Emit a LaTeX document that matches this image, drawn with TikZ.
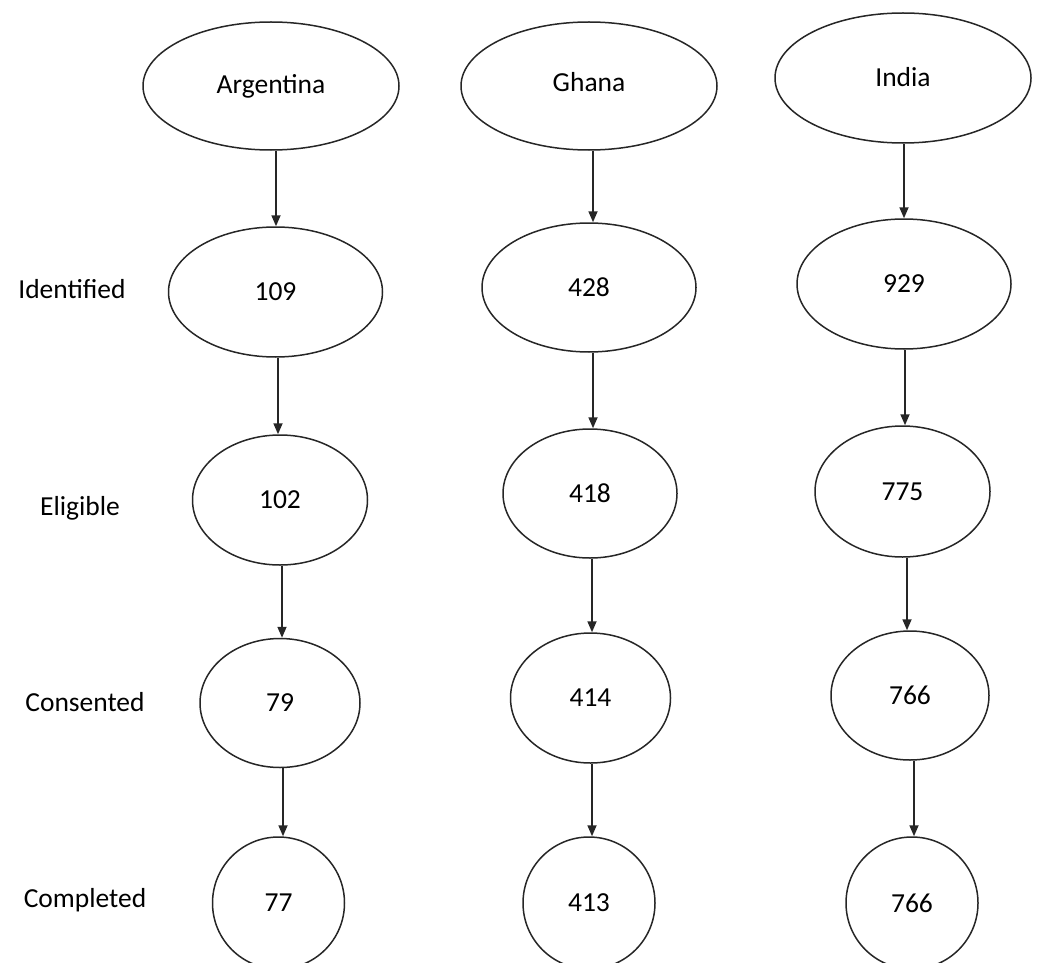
\documentclass[tikz,border=0pt]{standalone}
\usepackage{fontspec}
\setmainfont{Carlito}
\usetikzlibrary{shapes.geometric,arrows.meta}
\begin{document}
\begin{tikzpicture}[x=1pt,y=-1pt,
  stage/.style={draw=black!85,line width=1.5pt,ellipse,inner sep=0pt,font=\fontsize{27.5}{30}\selectfont},
  rowlabel/.style={font=\fontsize{27.5}{30}\selectfont,inner sep=0pt},
  flow/.style={draw=black!85,line width=1.7pt,-{Triangle[length=11pt,width=9pt]}}]
\useasboundingbox (0,0) rectangle (1038,963);
\clip (0,0) rectangle (1038,963);
% countries
\node[stage,minimum width=256pt,minimum height=128pt] (A0) at (271,86) {\raisebox{5pt}{Argentina}};
\node[stage,minimum width=256pt,minimum height=128pt] (G0) at (589,86) {\raisebox{9pt}{Ghana}};
\node[stage,minimum width=256pt,minimum height=130pt] (I0) at (903,78) {\raisebox{3pt}{India}};
% identified
\node[stage,minimum width=214pt,minimum height=130pt] (A1) at (275.5,292) {109};
\node[stage,minimum width=214pt,minimum height=129pt] (G1) at (589,287.5) {428};
\node[stage,minimum width=214pt,minimum height=130pt] (I1) at (904,284) {929};
% eligible
\node[stage,minimum width=175pt,minimum height=130pt] (A2) at (280,500) {102};
\node[stage,minimum width=174pt,minimum height=129pt] (G2) at (590,493.5) {418};
\node[stage,minimum width=175pt,minimum height=131pt] (I2) at (902.5,491.5) {775};
% consented
\node[stage,minimum width=160pt,minimum height=129pt] (A3) at (280,703) {79};
\node[stage,minimum width=160pt,minimum height=130pt] (G3) at (590.5,698) {414};
\node[stage,minimum width=158pt,minimum height=129pt] (I3) at (910,695.5) {766};
% completed
\node[stage,minimum width=132pt,minimum height=132pt] (A4) at (278.5,903) {77};
\node[stage,minimum width=132pt,minimum height=132pt] (G4) at (589,903) {413};
\node[stage,minimum width=132pt,minimum height=132pt] (I4) at (912,903) {766};
% row labels
\node[rowlabel] (L1) at (72,289) {Identified};
\node[rowlabel] (L2) at (80,508) {Eligible};
\node[rowlabel] (L3) at (85,702) {Consented};
\node[rowlabel] (L4) at (85,900) {Completed};
% arrows
\draw[flow] ([xshift=5pt]A0.south) -- ([xshift=5pt]A0.south |- A1.north);
\draw[flow] ([xshift=2.5pt]A1.south) -- ([xshift=2.5pt]A1.south |- A2.north);
\draw[flow] ([xshift=2pt]A2.south) -- ([xshift=2pt]A2.south |- A3.north);
\draw[flow] ([xshift=3pt]A3.south) -- ([xshift=3pt]A3.south |- A4.north);
\draw[flow] ([xshift=4pt]G0.south) -- ([xshift=4pt]G0.south |- G1.north);
\draw[flow] ([xshift=4pt]G1.south) -- ([xshift=4pt]G1.south |- G2.north);
\draw[flow] ([xshift=2pt]G2.south) -- ([xshift=2pt]G2.south |- G3.north);
\draw[flow] ([xshift=1.5pt]G3.south) -- ([xshift=1.5pt]G3.south |- G4.north);
\draw[flow] ([xshift=1pt]I0.south) -- ([xshift=1pt]I0.south |- I1.north);
\draw[flow] ([xshift=1pt]I1.south) -- ([xshift=1pt]I1.south |- I2.north);
\draw[flow] ([xshift=4.5pt]I2.south) -- ([xshift=4.5pt]I2.south |- I3.north);
\draw[flow] ([xshift=4pt]I3.south) -- ([xshift=4pt]I3.south |- I4.north);
\end{tikzpicture}
\end{document}
